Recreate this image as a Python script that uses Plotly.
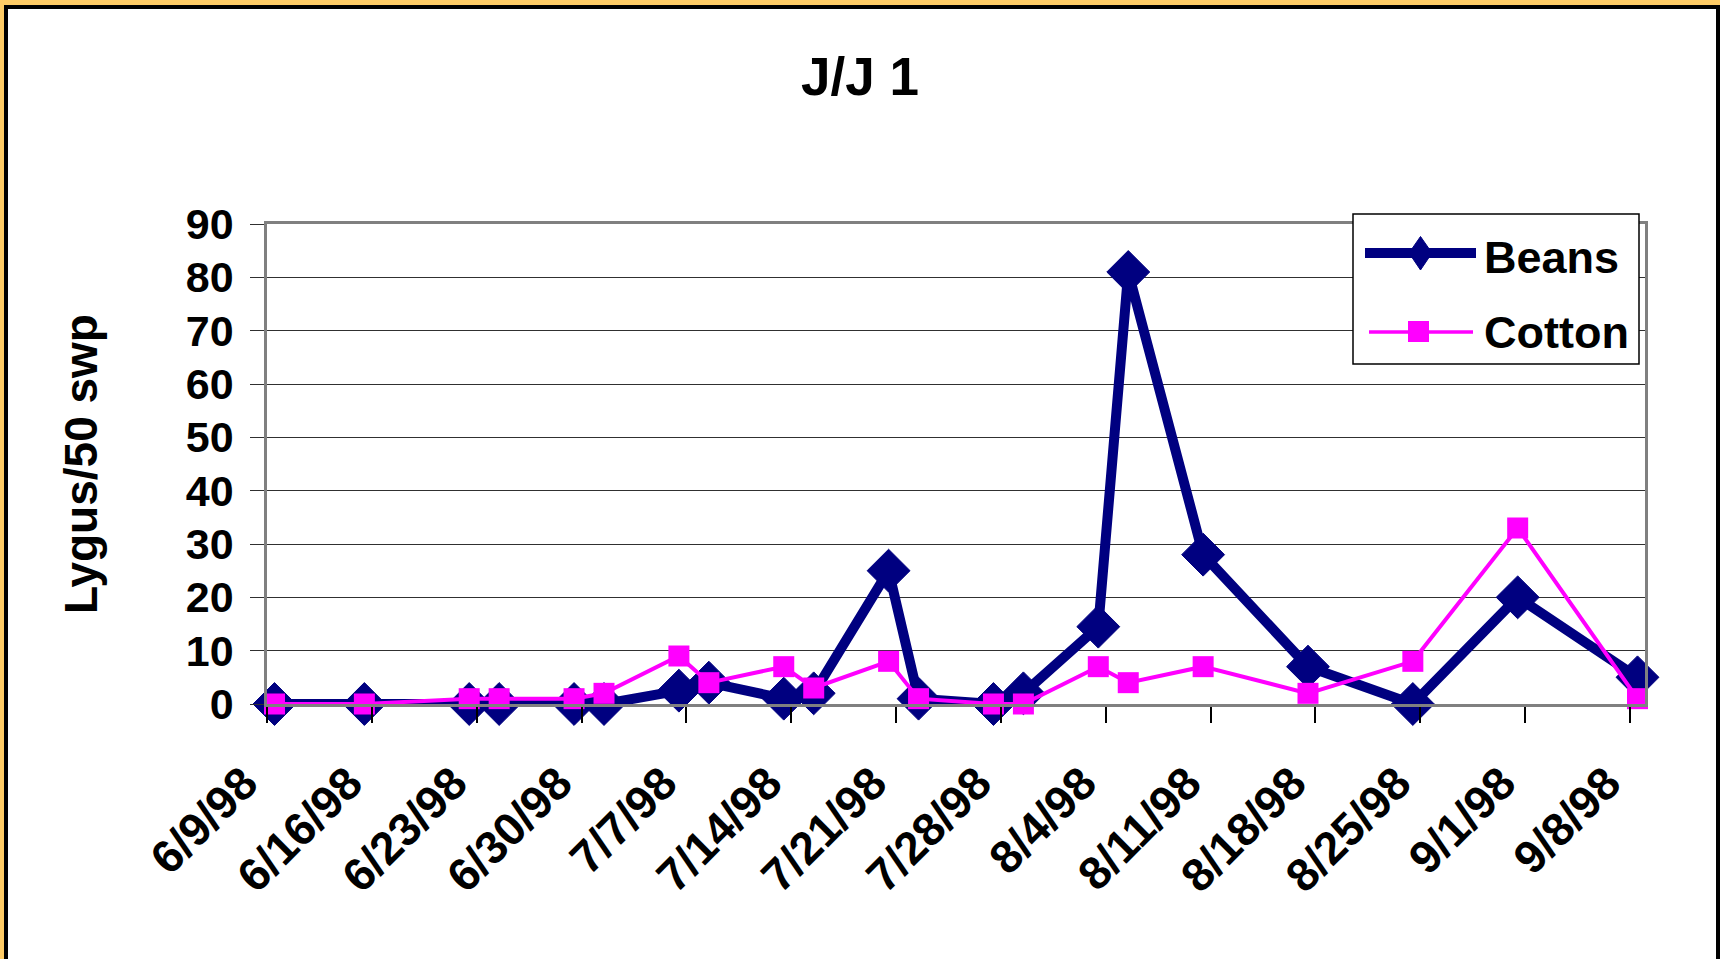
import pandas as pd
import plotly.graph_objects as go

# Sweep-net sampling dates and Lygus counts per 50 sweeps
sample_dates = [
    "1998-06-09", "1998-06-15", "1998-06-22", "1998-06-24", "1998-06-29",
    "1998-07-01", "1998-07-06", "1998-07-08", "1998-07-13", "1998-07-15",
    "1998-07-20", "1998-07-22", "1998-07-27", "1998-07-29", "1998-08-03",
    "1998-08-05", "1998-08-10", "1998-08-17", "1998-08-24", "1998-08-31",
    "1998-09-08",
]
beans = [0, 0, 0, 0, 0, 0, 2.5, 4, 1, 2, 25, 1, 0, 2, 14.5, 81, 28, 7, 0, 20, 5]
cotton = [0, 0, 1, 1, 1, 2, 9, 4, 7, 3, 8, 1, 0, 0, 7, 4, 7, 2, 8, 33, 1]

series_names = ["Beans", "Cotton"]
axis_start = "1998-06-09"
axis_end = "1998-09-09"
y_max = 90
y_step = 10

# Canvas geometry
W_PX, H_PX = 1720, 959
M_L, M_R, M_T, M_B = 267, 75, 224, 255
PLOT_W = W_PX - M_L - M_R
PLOT_H = H_PX - M_T - M_B

NAVY = "#000080"
MAGENTA = "#FF00FF"
GOLD = "#FFCC66"
FONT = "Liberation Sans, Arial, sans-serif"


def px_x(px):
    return (px - M_L) / PLOT_W


def px_y(py):
    return 1 - (py - M_T) / PLOT_H


# Each day occupies one slot on the date axis; points sit at the slot centre
x_vals = pd.to_datetime(sample_dates) + pd.Timedelta(hours=12)

fig = go.Figure()
fig.add_trace(go.Scatter(
    x=x_vals, y=beans, name=series_names[0], mode="lines+markers",
    line=dict(color=NAVY, width=10),
    marker=dict(symbol="diamond", size=33, color=NAVY,
                line=dict(color=NAVY, width=1)),
    cliponaxis=False, showlegend=False,
))
fig.add_trace(go.Scatter(
    x=x_vals, y=cotton, name=series_names[1], mode="lines+markers",
    line=dict(color=MAGENTA, width=4),
    marker=dict(symbol="square", size=21, color=MAGENTA),
    cliponaxis=False, showlegend=False,
))


def rect(x0, y0, x1, y1, fill, line_color=None, line_width=0, layer="above"):
    return dict(
        type="rect", xref="paper", yref="paper",
        x0=px_x(x0), x1=px_x(x1), y0=px_y(y0), y1=px_y(y1),
        fillcolor=fill, layer=layer,
        line=dict(color=line_color or fill, width=line_width),
    )


shapes = [
    # slide frame
    rect(0, 0, W_PX, 5, GOLD),
    rect(0, 0, 4, H_PX, GOLD),
    rect(4, 5, W_PX, 9, "black"),
    rect(4, 5, 8, H_PX, "black"),
    rect(W_PX - 4, 5, W_PX, H_PX, "black"),
    # legend box
    rect(1353, 214, 1639, 364, "white", "black", 1.5),
    # legend: Beans sample
    dict(type="line", xref="paper", yref="paper",
         x0=px_x(1365), x1=px_x(1476), y0=px_y(253), y1=px_y(253),
         line=dict(color=NAVY, width=10), layer="above"),
    dict(type="path", xref="paper", yref="paper", layer="above",
         path=(f"M{px_x(1420.5)},{px_y(236.5)} L{px_x(1432)},{px_y(253)} "
               f"L{px_x(1420.5)},{px_y(270)} L{px_x(1409)},{px_y(253)} Z"),
         fillcolor=NAVY, line=dict(color=NAVY, width=1)),
    # legend: Cotton sample
    dict(type="line", xref="paper", yref="paper",
         x0=px_x(1369), x1=px_x(1473), y0=px_y(332), y1=px_y(332),
         line=dict(color=MAGENTA, width=3.5), layer="above"),
    rect(1408, 321, 1429, 342, MAGENTA),
]

annotations = [
    dict(text=series_names[0], xref="paper", yref="paper",
         x=px_x(1482), y=px_y(257), xanchor="left", yanchor="middle",
         showarrow=False, font=dict(family=FONT, size=45, color="black", weight="bold")),
    dict(text=series_names[1], xref="paper", yref="paper",
         x=px_x(1482), y=px_y(332), xanchor="left", yanchor="middle",
         showarrow=False, font=dict(family=FONT, size=45, color="black", weight="bold")),
]

fig.update_layout(
    width=W_PX, height=H_PX,
    margin=dict(l=M_L, r=M_R, t=M_T, b=M_B, autoexpand=False),
    paper_bgcolor="white", plot_bgcolor="white",
    font=dict(family=FONT, color="black"),
    title=dict(text="J/J 1", x=0.5, xref="container", xanchor="center",
               y=1 - 76 / H_PX, yref="container", yanchor="middle",
               font=dict(family=FONT, size=53, color="black", weight="bold")),
    shapes=shapes,
    annotations=annotations,
    showlegend=False,
)

fig.update_xaxes(
    type="date", range=[axis_start, axis_end],
    tick0=axis_start, dtick=7 * 86400000, tickformat="%-m/%-d/%y",
    ticks="outside", ticklen=16, tickwidth=1.5, tickcolor="black",
    tickangle=-45, ticklabelstandoff=15, ticklabelshift=-23,
    tickfont=dict(family=FONT, size=46, color="black", weight="bold"),
    showgrid=False, zeroline=False,
    showline=True, linecolor="#808080", linewidth=2.5, mirror=True,
)
fig.update_yaxes(
    range=[0, y_max], tick0=0, dtick=y_step,
    ticks="outside", ticklen=14, tickwidth=1, tickcolor="#303030",
    ticklabelstandoff=8,
    tickfont=dict(family=FONT, size=43, color="black", weight="bold"),
    showgrid=True, gridcolor="#303030", gridwidth=1, zeroline=False,
    showline=True, linecolor="#808080", linewidth=2.5, mirror=True,
    title=dict(text="Lygus/50 swp", standoff=74,
               font=dict(family=FONT, size=46, color="black", weight="bold")),
)

fig.write_html("out.html")
